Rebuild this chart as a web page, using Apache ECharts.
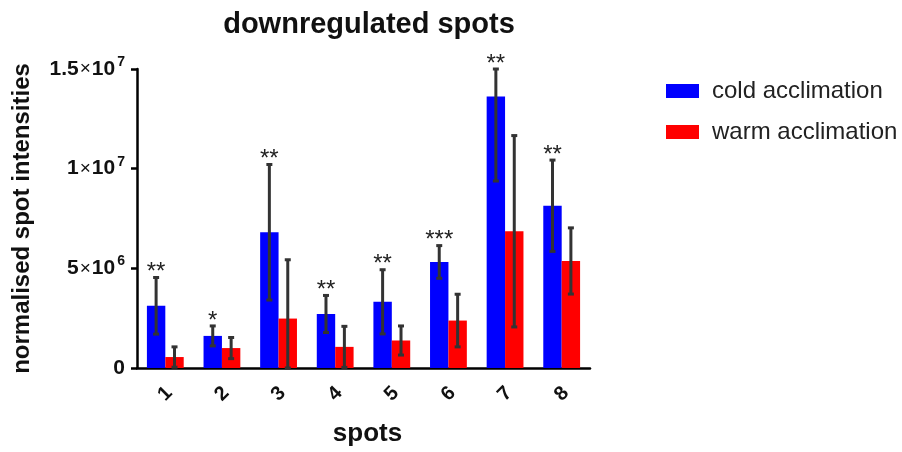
<!DOCTYPE html>
<html>
<head>
<meta charset="utf-8">
<script src="https://cdn.jsdelivr.net/npm/echarts@6/dist/echarts.min.js"></script>
<style>
  html, body { margin: 0; padding: 0; background: #fff; }
  #chart { width: 902px; height: 452px; }
</style>
</head>
<body>
<div id="chart"></div>
<script>
const FONT = 'Arial, "Liberation Sans", sans-serif';

const spots = ['1', '2', '3', '4', '5', '6', '7', '8'];
const coldMean = [3.12e6, 1.61e6, 6.81e6, 2.71e6, 3.32e6, 5.32e6, 13.62e6, 8.14e6];
const coldSd = [1.42e6, 0.50e6, 3.40e6, 0.93e6, 1.61e6, 0.82e6, 4.24e6, 2.29e6];
const warmMean = [0.55e6, 1.00e6, 2.48e6, 1.06e6, 1.38e6, 2.38e6, 6.86e6, 5.37e6];
const warmSd = [0.51e6, 0.53e6, 2.95e6, 1.03e6, 0.73e6, 1.32e6, 4.80e6, 1.66e6];
const stars = ['**', '*', '**', '**', '**', '***', '**', '**'];

// tick labels written as mantissa × 10^exp
const yTicks = [0, 5e6, 1e7, 1.5e7];
const yTickMant = ['0', '5', '1', '1.5'];
const yTickExp = ['', '6', '7', '7'];

const Y_MAX = 1.5e7;
const CAT_GAP = 0.35;

const chart = echarts.init(document.getElementById('chart'));

function errorRenderer(side, withStars) {
  return function (params, api) {
    const i = api.value(0);
    const mean = api.value(1);
    const sd = api.value(2);
    const band = api.size([1, 0])[0];
    const bw = band * (1 - CAT_GAP) / 2;
    const x = api.coord([i, 0])[0] + side * bw / 2;
    // error bars are cut off at the top of the axis, as in the original
    const yHi = api.coord([i, Math.min(mean + sd, Y_MAX)])[1];
    const yLo = api.coord([i, Math.max(mean - sd, 0)])[1];
    const style = { stroke: '#333', lineWidth: 3 };
    const children = [
      { type: 'line', shape: { x1: x, y1: yHi, x2: x, y2: yLo }, style: style },
      { type: 'line', shape: { x1: x - 3, y1: yHi, x2: x + 3, y2: yHi }, style: style },
      { type: 'line', shape: { x1: x - 3, y1: yLo, x2: x + 3, y2: yLo }, style: style }
    ];
    if (withStars) {
      children.push({
        type: 'text',
        style: {
          text: stars[i], x: x, y: yHi - 17,
          align: 'center', verticalAlign: 'top',
          fill: '#222', font: '24px ' + FONT
        }
      });
    }
    return { type: 'group', children: children };
  };
}

chart.setOption({
  backgroundColor: '#fff',
  animation: false,
  title: {
    text: 'downregulated spots',
    left: 364, top: 5, textAlign: 'center',
    textStyle: { fontFamily: FONT, fontSize: 29, fontWeight: 'bold', color: '#111' }
  },
  legend: {
    orient: 'vertical',
    left: 661, top: 74,
    itemWidth: 33, itemHeight: 14, itemGap: 17,
    icon: 'rect',
    data: ['cold acclimation', 'warm acclimation'],
    textStyle: { fontFamily: FONT, fontSize: 24, color: '#222', padding: [0, 0, 0, 8] }
  },
  grid: { left: 137, right: 312, top: 69, bottom: 82 },
  xAxis: {
    type: 'category',
    data: spots,
    name: 'spots',
    nameLocation: 'middle',
    nameGap: 53,
    nameTextStyle: { fontFamily: FONT, fontSize: 26, fontWeight: 'bold', color: '#111', padding: [0, 0, 0, 8] },
    axisLine: { lineStyle: { color: '#000', width: 2.5 } },
    axisTick: { alignWithLabel: true, length: 6, lineStyle: { color: '#000', width: 2.5 } },
    axisLabel: {
      rotate: 45, margin: 26, align: 'center', verticalAlign: 'middle',
      fontFamily: FONT, fontSize: 20, fontWeight: 'bold', color: '#111'
    }
  },
  yAxis: {
    type: 'value',
    min: 0, max: Y_MAX, interval: 5e6,
    name: 'normalised spot intensities',
    nameLocation: 'middle',
    nameGap: 103,
    nameTextStyle: { fontFamily: FONT, fontSize: 24, fontWeight: 'bold', color: '#111' },
    axisLine: { show: true, lineStyle: { color: '#000', width: 2.5 } },
    axisTick: { show: true, length: 6, lineStyle: { color: '#000', width: 2.5 } },
    splitLine: { show: false },
    axisLabel: {
      margin: 12,
      formatter: function (v) {
        const k = yTicks.indexOf(v);
        if (k < 0) return '';
        if (!yTickExp[k]) return '{b|' + yTickMant[k] + '}';
        return '{b|' + yTickMant[k] + '}{x|×}{b|10}{s|' + yTickExp[k] + '}';
      },
      rich: {
        b: { fontFamily: FONT, fontSize: 21, fontWeight: 'bold', color: '#111' },
        x: { fontFamily: FONT, fontSize: 19, color: '#111', padding: [0, 1, 0, 1] },
        s: { fontFamily: FONT, fontSize: 14, fontWeight: 'bold', color: '#111', padding: [0, 0, 14, 2] }
      }
    }
  },
  series: [
    {
      name: 'cold acclimation', type: 'bar',
      data: coldMean, barGap: '0%', barCategoryGap: '35%',
      itemStyle: { color: '#0000ff' }
    },
    {
      name: 'warm acclimation', type: 'bar',
      data: warmMean, barGap: '0%', barCategoryGap: '35%',
      itemStyle: { color: '#ff0000' }
    },
    {
      type: 'custom', renderItem: errorRenderer(-1, true), clip: false, z: 5,
      data: spots.map((s, i) => [i, coldMean[i], coldSd[i]])
    },
    {
      type: 'custom', renderItem: errorRenderer(1, false), clip: false, z: 5,
      data: spots.map((s, i) => [i, warmMean[i], warmSd[i]])
    }
  ]
});
</script>
</body>
</html>
